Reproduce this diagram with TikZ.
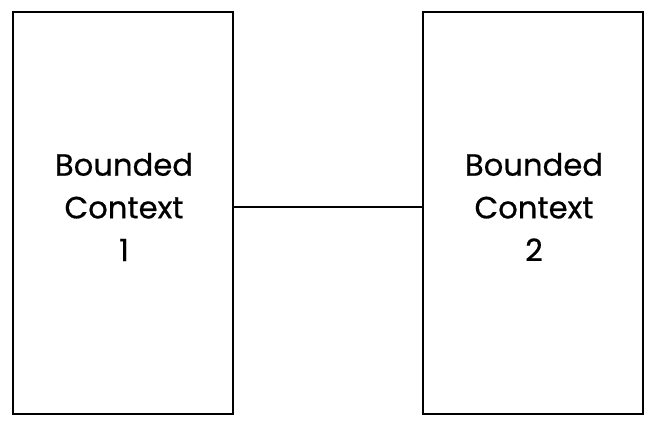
\documentclass[tikz,border=0pt]{standalone}
\usepackage{fontspec}
\setmainfont{Poppins}[FakeBold=0.6]
\usepackage{tikz}

\tikzset{
    context/.style={draw, line width=1.5pt, minimum width=165pt, minimum height=301pt},
    label/.style={align=center, font=\fontsize{23}{32}\selectfont},
}

\begin{document}
\begin{tikzpicture}[x=0.75pt, y=-0.75pt]
    \useasboundingbox (0, 0) rectangle (656, 428);
    \node[context] (BC1) at (123, 213) {};
    \node[context] (BC2) at (533, 213) {};
    \node[label] (BC1text) at (124, 207) {Bounded\\Context\\1};
    \node[label] (BC2text) at (534, 207) {Bounded\\Context\\2};
    \draw[line width=1.1pt] (BC1.east |- BC1text) -- (BC2.west |- BC2text);
  \end{tikzpicture}
\end{document}
